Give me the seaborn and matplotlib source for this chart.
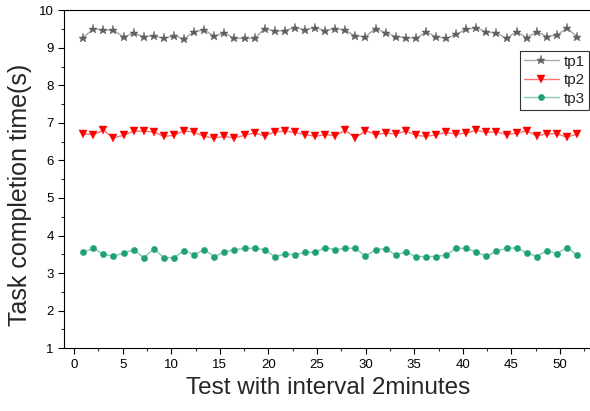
import numpy as np
import pandas as pd
import seaborn as sns
import matplotlib.pyplot as plt
from matplotlib.colors import to_rgba
from matplotlib.ticker import MultipleLocator

# test index (points are spaced slightly wider than the tick grid in the original)
test_x = np.linspace(0.95, 51.75, 50)

tp1 = [9.27, 9.51, 9.47, 9.47, 9.29, 9.39, 9.30, 9.32, 9.25, 9.32,
       9.24, 9.43, 9.48, 9.31, 9.40, 9.25, 9.25, 9.25, 9.51, 9.44,
       9.46, 9.54, 9.48, 9.54, 9.46, 9.51, 9.47, 9.31, 9.30, 9.51,
       9.40, 9.30, 9.27, 9.25, 9.42, 9.30, 9.25, 9.36, 9.49, 9.54,
       9.42, 9.40, 9.25, 9.43, 9.27, 9.43, 9.30, 9.34, 9.52, 9.30]

tp2 = [6.71, 6.69, 6.80, 6.60, 6.67, 6.78, 6.78, 6.76, 6.64, 6.67,
       6.79, 6.75, 6.64, 6.60, 6.64, 6.60, 6.67, 6.73, 6.65, 6.76,
       6.78, 6.75, 6.69, 6.64, 6.69, 6.66, 6.80, 6.60, 6.79, 6.69,
       6.73, 6.70, 6.78, 6.67, 6.64, 6.68, 6.75, 6.70, 6.73, 6.80,
       6.75, 6.76, 6.69, 6.73, 6.79, 6.65, 6.71, 6.71, 6.62, 6.70]

tp3 = [3.55, 3.66, 3.50, 3.45, 3.53, 3.62, 3.41, 3.64, 3.41, 3.41,
       3.60, 3.49, 3.62, 3.44, 3.56, 3.62, 3.66, 3.66, 3.62, 3.44,
       3.50, 3.49, 3.55, 3.55, 3.68, 3.62, 3.66, 3.66, 3.45, 3.62,
       3.65, 3.48, 3.56, 3.44, 3.44, 3.44, 3.48, 3.66, 3.66, 3.56,
       3.45, 3.58, 3.66, 3.67, 3.54, 3.44, 3.60, 3.52, 3.68, 3.48]

series_names = ['tp1', 'tp2', 'tp3']
series_colors = ['#606060', '#ff0000', '#1fa077']
series_markers = ['*', 'v', 'o']
marker_sizes = [6.5, 5.5, 4.5]

sns.set_style('ticks')
plt.rcParams['font.family'] = ['Liberation Sans', 'DejaVu Sans']

fig = plt.figure(figsize=(5.9, 4.11), dpi=100)
ax = fig.add_axes([0.109, 0.153, 0.893, 0.822])

for name, vals, col, mk, ms in zip(series_names, [tp1, tp2, tp3],
                                   series_colors, series_markers, marker_sizes):
    df = pd.DataFrame({'x': test_x, 'y': vals})
    sns.lineplot(data=df, x='x', y='y', ax=ax, label=name, marker=mk,
                 markersize=ms, color=col, linewidth=1.0,
                 markeredgewidth=0.3, markeredgecolor=col)
    line = ax.lines[-1]
    line.set_color(to_rgba(col, 0.55))
    line.set_markerfacecolor(col)
    line.set_markeredgecolor(col)

ax.set_xlim(-1.0, 53.2)
ax.set_ylim(1, 10)
ax.xaxis.set_major_locator(MultipleLocator(5))
ax.xaxis.set_minor_locator(MultipleLocator(2.5))
ax.yaxis.set_major_locator(MultipleLocator(1))
ax.yaxis.set_minor_locator(MultipleLocator(0.5))
ax.tick_params(which='major', direction='out', length=4, width=0.8,
               labelsize=9.5, colors='black', top=False, right=False)
ax.tick_params(which='minor', direction='out', length=2.5, width=0.8,
               top=False, right=False)
for sp in ax.spines.values():
    sp.set_visible(True)
    sp.set_linewidth(0.8)
    sp.set_color('black')

ax.set_xlabel('Test with interval 2minutes', fontsize=17.5, labelpad=5)
ax.set_ylabel('Task completion time(s)', fontsize=18)
ax.yaxis.set_label_coords(-0.062, 0.455)

leg = ax.legend(loc='upper left', bbox_to_anchor=(0.865, 0.88),
                fontsize=11, frameon=True, fancybox=False,
                edgecolor='black', handlelength=2.3, borderpad=0.25,
                labelspacing=0.3, handletextpad=0.3, borderaxespad=0)
leg.get_frame().set_linewidth(0.8)

fig.savefig('out.png', dpi=100)
